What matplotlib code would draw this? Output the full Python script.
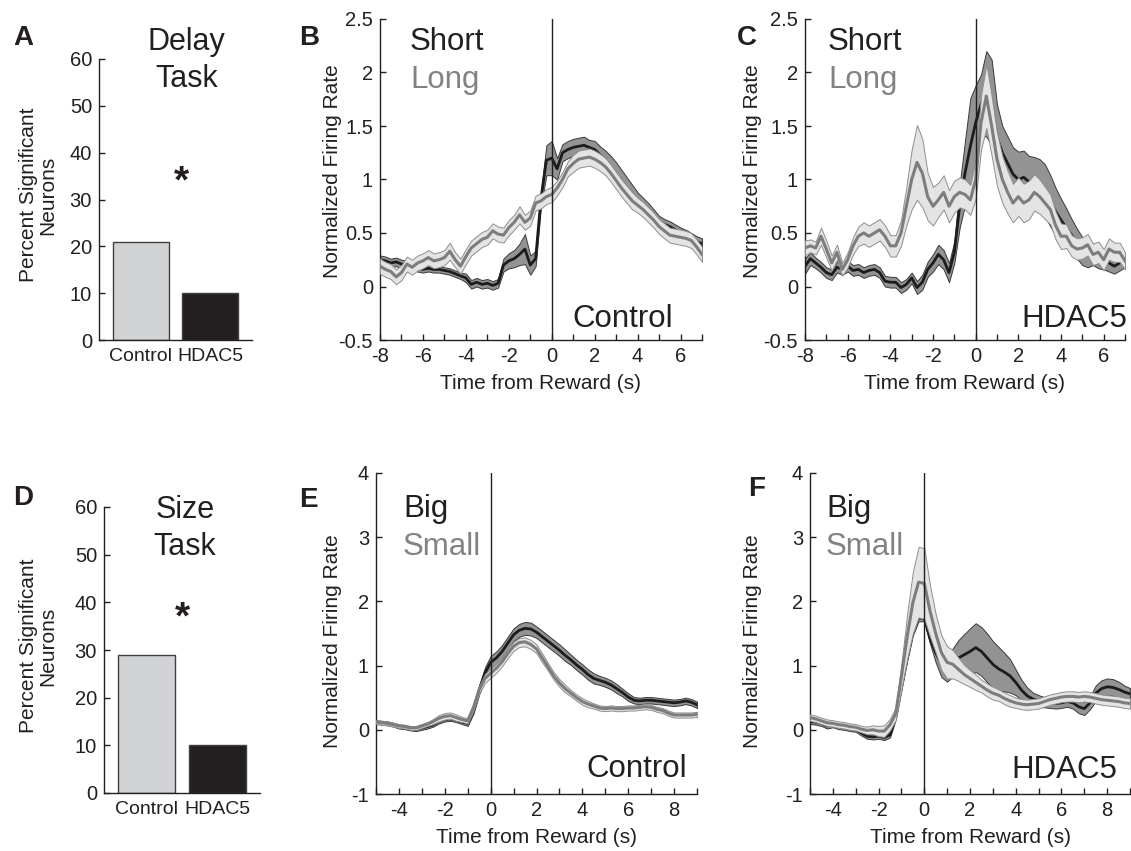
"""Percent significant neurons and reward-aligned firing rates (delay / size tasks)."""

import matplotlib

matplotlib.use("Agg")
import matplotlib.pyplot as plt
import numpy as np
from matplotlib.ticker import FuncFormatter, MultipleLocator

plt.rcParams["font.family"] = ["Liberation Sans", "DejaVu Sans"]
plt.rcParams["axes.unicode_minus"] = False

INK = "#231f20"
GREY_TXT = "#808285"
BAR_COLORS = ["#d1d3d4", INK]
DARK_BAND, DARK_EDGE, DARK_LINE = "#939393", "#3a3a3a", "#1c1c1c"
LIGHT_BAND, LIGHT_EDGE, LIGHT_LINE = "#e4e4e4", "#8e8e8e", "#7d7d7d"

# ---- bar panels -----------------------------------------------------------
GROUPS = ["Control", "HDAC5"]
DELAY_PCT = [21, 10]
SIZE_PCT = [29, 10]

# ---- delay task, 0.25 s bins from -8 to 7 s --------------------------------
T_DELAY = np.arange(-8, 7.001, 0.25)

B_SHORT = [0.25, 0.24, 0.22, 0.23,  0.21, 0.20, 0.18, 0.17,
           0.16, 0.17, 0.16, 0.16,  0.15, 0.14, 0.12, 0.10,
           0.08, 0.02, 0.04, 0.02,  0.03, 0.01, 0.03, 0.20,
           0.24, 0.26, 0.30, 0.35,  0.20, 0.26, 0.82, 1.18,
           1.20, 1.10, 1.25, 1.28,  1.30, 1.31, 1.32, 1.30,
           1.28, 1.23, 1.18, 1.12,  1.05, 0.98, 0.92, 0.86,
           0.80, 0.76, 0.72, 0.66,  0.61, 0.58, 0.56, 0.53,
           0.50, 0.48, 0.45, 0.42,  0.40]
B_SHORT_SEM = [.04, .04, .04, .04,  .04, .04, .03, .03,
               .03, .03, .03, .03,  .03, .03, .03, .03,
               .04, .04, .04, .04,  .04, .04, .04, .06,
               .07, .08, .10, .14,  .09, .07, .07, .14,
               .16, .10, .08, .08,  .08, .08, .08, .07,
               .08, .08, .09, .10,  .11, .11, .10, .09,
               .08, .07, .06, .06,  .05, .05, .05, .05,
               .05, .05, .05, .05,  .05]
B_LONG = [0.19, 0.16, 0.14, 0.09,  0.13, 0.21, 0.18, 0.22,
          0.24, 0.27, 0.24, 0.25,  0.27, 0.33, 0.25, 0.19,
          0.28, 0.36, 0.40, 0.44,  0.46, 0.52, 0.49, 0.48,
          0.55, 0.60, 0.67, 0.60,  0.64, 0.78, 0.80, 0.84,
          0.86, 0.92, 1.00, 1.10,  1.15, 1.19, 1.20, 1.21,
          1.19, 1.16, 1.12, 1.06,  0.99, 0.92, 0.86, 0.80,
          0.76, 0.72, 0.67, 0.62,  0.56, 0.52, 0.48, 0.47,
          0.46, 0.45, 0.43, 0.37,  0.30]
B_LONG_SEM = [.07, .07, .07, .07,  .07, .07, .07, .07,
              .07, .07, .07, .07,  .07, .08, .07, .07,
              .07, .07, .07, .07,  .07, .07, .07, .07,
              .07, .07, .08, .07,  .07, .07, .07, .07,
              .07, .07, .07, .07,  .08, .08, .08, .08,
              .08, .08, .08, .08,  .08, .08, .08, .08,
              .07, .07, .07, .07,  .07, .07, .07, .07,
              .07, .07, .07, .07,  .07]

C_SHORT = [0.19, 0.26, 0.22, 0.18,  0.13, 0.11, 0.18, 0.16,
           0.19, 0.15, 0.16, 0.13,  0.15, 0.16, 0.13, 0.05,
           0.04, 0.04, -0.01, 0.02,  0.08, -0.01, 0.04, 0.16,
           0.22, 0.30, 0.25, 0.13,  0.32, 0.75, 1.06, 1.31,
           1.53, 1.70, 1.80, 1.72,  1.40, 1.25, 1.15, 1.05,
           1.00, 1.02, 0.98, 0.97,  0.95, 0.90, 0.80, 0.70,
           0.62, 0.55, 0.48, 0.40,  0.33, 0.30, 0.30, 0.27,
           0.25, 0.22, 0.19, 0.22,  0.24]
C_SHORT_SEM = [.07, .06, .05, .05,  .05, .05, .05, .05,
               .05, .05, .05, .05,  .05, .05, .05, .05,
               .05, .05, .05, .05,  .05, .06, .07, .07,
               .08, .09, .09, .09,  .10, .20, .30, .45,
               .35, .28, .40, .40,  .30, .25, .25, .25,
               .26, .25, .24, .24,  .24, .24, .24, .22,
               .20, .18, .15, .14,  .13, .12, .10, .10,
               .09, .08, .07, .07,  .06]
C_LONG = [0.36, 0.38, 0.36, 0.47,  0.35, 0.22, 0.32, 0.16,
          0.25, 0.38, 0.47, 0.50,  0.47, 0.50, 0.53, 0.47,
          0.38, 0.38, 0.50, 0.75,  1.00, 1.16, 1.06, 0.84,
          0.75, 0.81, 0.88, 0.75,  0.84, 0.88, 0.86, 0.81,
          1.00, 1.53, 1.78, 1.50,  1.19, 1.00, 0.88, 0.78,
          0.84, 0.78, 0.81, 0.88,  0.84, 0.78, 0.72, 0.57,
          0.47, 0.47, 0.38, 0.35,  0.36, 0.39, 0.30, 0.32,
          0.25, 0.35, 0.32, 0.32,  0.24]
C_LONG_SEM = [.07, .06, .06, .08,  .08, .07, .07, .06,
              .07, .08, .09, .10,  .10, .10, .10, .10,
              .10, .10, .12, .18,  .28, .35, .32, .22,
              .18, .16, .16, .15,  .15, .14, .14, .14,
              .18, .25, .30, .28,  .25, .22, .20, .18,
              .18, .18, .18, .17,  .16, .15, .14, .13,
              .12, .11, .10, .10,  .10, .10, .10, .10,
              .10, .10, .09, .09,  .08]

# ---- size task, 0.25 s bins from -5 to 9 s ---------------------------------
T_SIZE = np.arange(-5, 9.001, 0.25)

E_BIG = [0.12, 0.11, 0.10, 0.08,  0.05, 0.04, 0.02, 0.01,
         0.03, 0.05, 0.08, 0.13,  0.16, 0.17, 0.15, 0.12,
         0.10, 0.30, 0.62, 0.88,  1.05, 1.12, 1.22, 1.35,
         1.48, 1.55, 1.58, 1.57,  1.52, 1.45, 1.38, 1.31,
         1.24, 1.16, 1.09, 1.01,  0.94, 0.86, 0.80, 0.77,
         0.74, 0.70, 0.64, 0.58,  0.51, 0.46, 0.45, 0.46,
         0.46, 0.45, 0.44, 0.43,  0.42, 0.43, 0.45, 0.43,
         0.39]
E_BIG_SEM = [.03, .03, .03, .03,  .03, .03, .03, .03,
             .03, .03, .03, .03,  .03, .03, .03, .03,
             .04, .05, .07, .09,  .10, .10, .10, .10,
             .10, .10, .10, .10,  .09, .09, .09, .09,
             .09, .09, .08, .08,  .08, .08, .08, .07,
             .07, .07, .07, .06,  .06, .05, .05, .05,
             .05, .05, .05, .05,  .05, .05, .05, .05,
             .05]
E_SMALL = [0.12, 0.11, 0.10, 0.08,  0.06, 0.05, 0.03, 0.03,
           0.06, 0.09, 0.13, 0.18,  0.21, 0.22, 0.19, 0.16,
           0.14, 0.35, 0.62, 0.80,  0.88, 0.96, 1.06, 1.19,
           1.30, 1.36, 1.37, 1.33,  1.26, 1.12, 0.98, 0.84,
           0.73, 0.64, 0.57, 0.50,  0.44, 0.40, 0.37, 0.34,
           0.33, 0.34, 0.33, 0.33,  0.34, 0.34, 0.35, 0.36,
           0.35, 0.32, 0.30, 0.26,  0.23, 0.23, 0.23, 0.23,
           0.24]
E_SMALL_SEM = [.03, .03, .03, .03,  .03, .03, .03, .03,
               .03, .03, .04, .05,  .05, .05, .05, .04,
               .04, .05, .06, .07,  .07, .07, .07, .07,
               .07, .07, .07, .07,  .07, .07, .06, .06,
               .06, .06, .05, .05,  .05, .05, .04, .04,
               .04, .04, .04, .04,  .04, .04, .04, .04,
               .04, .04, .04, .04,  .04, .04, .04, .04,
               .04]

F_BIG = [0.13, 0.12, 0.10, 0.06,  0.08, 0.05, 0.04, 0.02,
         0.01, -0.05, -0.10, -0.11,  -0.10, -0.12, -0.08, 0.20,
         0.67, 1.12, 1.52, 1.74,  1.74, 1.42, 1.20, 1.02,
         0.95, 1.05, 1.12, 1.17,  1.22, 1.28, 1.22, 1.12,
         1.02, 0.95, 0.90, 0.84,  0.74, 0.62, 0.53, 0.48,
         0.45, 0.43, 0.42, 0.41,  0.42, 0.44, 0.42, 0.36,
         0.33, 0.42, 0.57, 0.64,  0.67, 0.66, 0.63, 0.59,
         0.56]
F_BIG_SEM = [.04, .04, .04, .04,  .04, .04, .04, .04,
             .04, .04, .04, .04,  .04, .04, .04, .04,
             .05, .05, .05, .05,  .05, .08, .15, .20,
             .20, .22, .28, .32,  .36, .38, .38, .38,
             .36, .34, .30, .26,  .20, .16, .13, .10,
             .09, .08, .08, .08,  .08, .08, .09, .10,
             .10, .10, .12, .13,  .13, .13, .12, .10,
             .09]
F_SMALL = [0.19, 0.17, 0.14, 0.11,  0.10, 0.08, 0.07, 0.05,
           0.04, 0.01, -0.01, 0.00,  -0.02, -0.02, 0.08, 0.25,
           0.83, 1.45, 1.98, 2.30,  2.28, 1.85, 1.50, 1.20,
           1.05, 1.02, 0.94, 0.86,  0.80, 0.74, 0.68, 0.62,
           0.57, 0.54, 0.49, 0.45,  0.42, 0.40, 0.39, 0.40,
           0.41, 0.44, 0.47, 0.49,  0.51, 0.52, 0.52, 0.51,
           0.52, 0.51, 0.49, 0.47,  0.46, 0.45, 0.44, 0.42,
           0.41]
F_SMALL_SEM = [.05, .05, .05, .05,  .05, .05, .05, .05,
               .05, .05, .06, .07,  .08, .09, .09, .10,
               .20, .35, .48, .55,  .55, .40, .30, .27,
               .25, .22, .18, .15,  .13, .12, .10, .10,
               .10, .09, .09, .09,  .08, .08, .08, .08,
               .08, .08, .08, .08,  .08, .08, .08, .08,
               .08, .08, .08, .08,  .08, .08, .08, .08,
               .08]

FMT = FuncFormatter(lambda v, _: f"{v:g}")
BIG_TXT = 22.5


def style_axes(ax):
    for side in ("top", "right"):
        ax.spines[side].set_visible(False)
    for side in ("left", "bottom"):
        ax.spines[side].set_linewidth(1.0)
        ax.spines[side].set_color(INK)
    ax.tick_params(which="both", direction="in", length=4, width=1,
                   labelsize=14.5, colors=INK, pad=5)


def bar_panel(ax, values, title, title_x, title_y, star_xy, label_xy):
    ax.bar([1, 2], values, width=0.8, color=BAR_COLORS,
           edgecolor="#404040", linewidth=1.0)
    ax.set_xlim(0.4, 2.6)
    ax.set_ylim(0, 60)
    ax.set_yticks(range(0, 61, 10))
    ax.set_xticks([1, 2], GROUPS)
    style_axes(ax)
    ax.tick_params(axis="x", length=0, pad=6, labelsize=14)
    ax.set_ylabel("Percent Significant\nNeurons", fontsize=15, color=INK,
                  linespacing=1.0)
    ax.yaxis.set_label_coords(*label_xy)
    for line, y in zip(title, title_y):
        ax.text(title_x, y, line, transform=ax.transAxes, ha="center",
                va="baseline", fontsize=22, color=INK)
    ax.text(*star_xy, "*", ha="center", va="baseline", fontsize=28,
            fontweight="bold", color=INK)


def psth_panel(ax, t, dark, dark_sem, light, light_sem, xlim, ylim, ystep,
               names, name_xy, group, group_xy, label_xy):
    dark, dark_sem = np.asarray(dark), np.asarray(dark_sem)
    light, light_sem = np.asarray(light), np.asarray(light_sem)
    ax.fill_between(t, dark - dark_sem, dark + dark_sem, facecolor=DARK_BAND,
                    edgecolor=DARK_EDGE, linewidth=0.7, zorder=1)
    ax.plot(t, dark, color=DARK_LINE, lw=2, zorder=2)
    ax.fill_between(t, light - light_sem, light + light_sem,
                    facecolor=LIGHT_BAND, edgecolor=LIGHT_EDGE,
                    linewidth=0.7, zorder=3)
    ax.plot(t, light, color=LIGHT_LINE, lw=2.2, zorder=4)
    ax.axvline(0, color=INK, lw=1, zorder=5)

    ax.set_xlim(*xlim)
    ax.set_ylim(*ylim)
    ax.xaxis.set_major_locator(MultipleLocator(2))
    ax.xaxis.set_minor_locator(MultipleLocator(1))
    ax.yaxis.set_major_locator(MultipleLocator(ystep))
    ax.xaxis.set_major_formatter(FMT)
    ax.yaxis.set_major_formatter(FMT)
    style_axes(ax)
    ax.set_xlabel("Time from Reward (s)", fontsize=15, color=INK, labelpad=6)
    ax.set_ylabel("Normalized Firing Rate", fontsize=15, color=INK)
    ax.yaxis.set_label_coords(*label_xy)

    ax.text(name_xy[0], name_xy[1], names[0], transform=ax.transAxes,
            ha="left", va="baseline", fontsize=BIG_TXT, color=INK)
    ax.text(name_xy[0], name_xy[2], names[1], transform=ax.transAxes,
            ha="left", va="baseline", fontsize=BIG_TXT, color=GREY_TXT)
    ax.text(*group_xy, group, transform=ax.transAxes, ha="right",
            va="baseline", fontsize=BIG_TXT, color=INK)


W, H = 1131, 851


def box(left, right, top, bottom):
    return [left / W, 1 - bottom / H, (right - left) / W, (bottom - top) / H]


fig = plt.figure(figsize=(W / 100, H / 100), dpi=100)

ax_a = fig.add_axes(box(99, 252, 59, 340))
ax_b = fig.add_axes(box(380, 702, 19, 340))
ax_c = fig.add_axes(box(805, 1125, 19, 340))
ax_d = fig.add_axes(box(104, 260, 507, 793))
ax_e = fig.add_axes(box(376, 697, 473, 794))
ax_f = fig.add_axes(box(810, 1130, 473, 794))

bar_panel(ax_a, DELAY_PCT, ["Delay", "Task"], 0.57, [1.032, 0.90],
          (1.59, 31.4), (-0.275, 0.516))
bar_panel(ax_d, SIZE_PCT, ["Size", "Task"], 0.52, [0.96, 0.832],
          (1.50, 34.6), (-0.30, 0.514))

psth_panel(ax_b, T_DELAY, B_SHORT, B_SHORT_SEM, B_LONG, B_LONG_SEM,
           (-8, 7), (-0.5, 2.5), 0.5, ["Short", "Long"], (0.093, 0.903, 0.785),
           "Control", (0.91, 0.04), (-0.118, 0.526))
psth_panel(ax_c, T_DELAY, C_SHORT, C_SHORT_SEM, C_LONG, C_LONG_SEM,
           (-8, 7), (-0.5, 2.5), 0.5, ["Short", "Long"], (0.072, 0.903, 0.785),
           "HDAC5", (1.006, 0.04), (-0.134, 0.526))
psth_panel(ax_e, T_SIZE, E_BIG, E_BIG_SEM, E_SMALL, E_SMALL_SEM,
           (-5, 9), (-1, 4), 1, ["Big", "Small"], (0.084, 0.863, 0.745),
           "Control", (0.969, 0.053), (-0.106, 0.477))
psth_panel(ax_f, T_SIZE, F_BIG, F_BIG_SEM, F_SMALL, F_SMALL_SEM,
           (-5, 9), (-1, 4), 1, ["Big", "Small"], (0.05, 0.863, 0.745),
           "HDAC5", (0.959, 0.05), (-0.15, 0.477))

for letter, x, y in [("A", 13, 45), ("B", 299, 45), ("C", 737, 45),
                     ("D", 13, 505), ("E", 299, 507), ("F", 748, 496)]:
    fig.text(x / W, 1 - y / H, letter, fontsize=20, fontweight="bold",
             color=INK, ha="left", va="baseline")

fig.savefig("out.png", dpi=100)
plt.close(fig)
